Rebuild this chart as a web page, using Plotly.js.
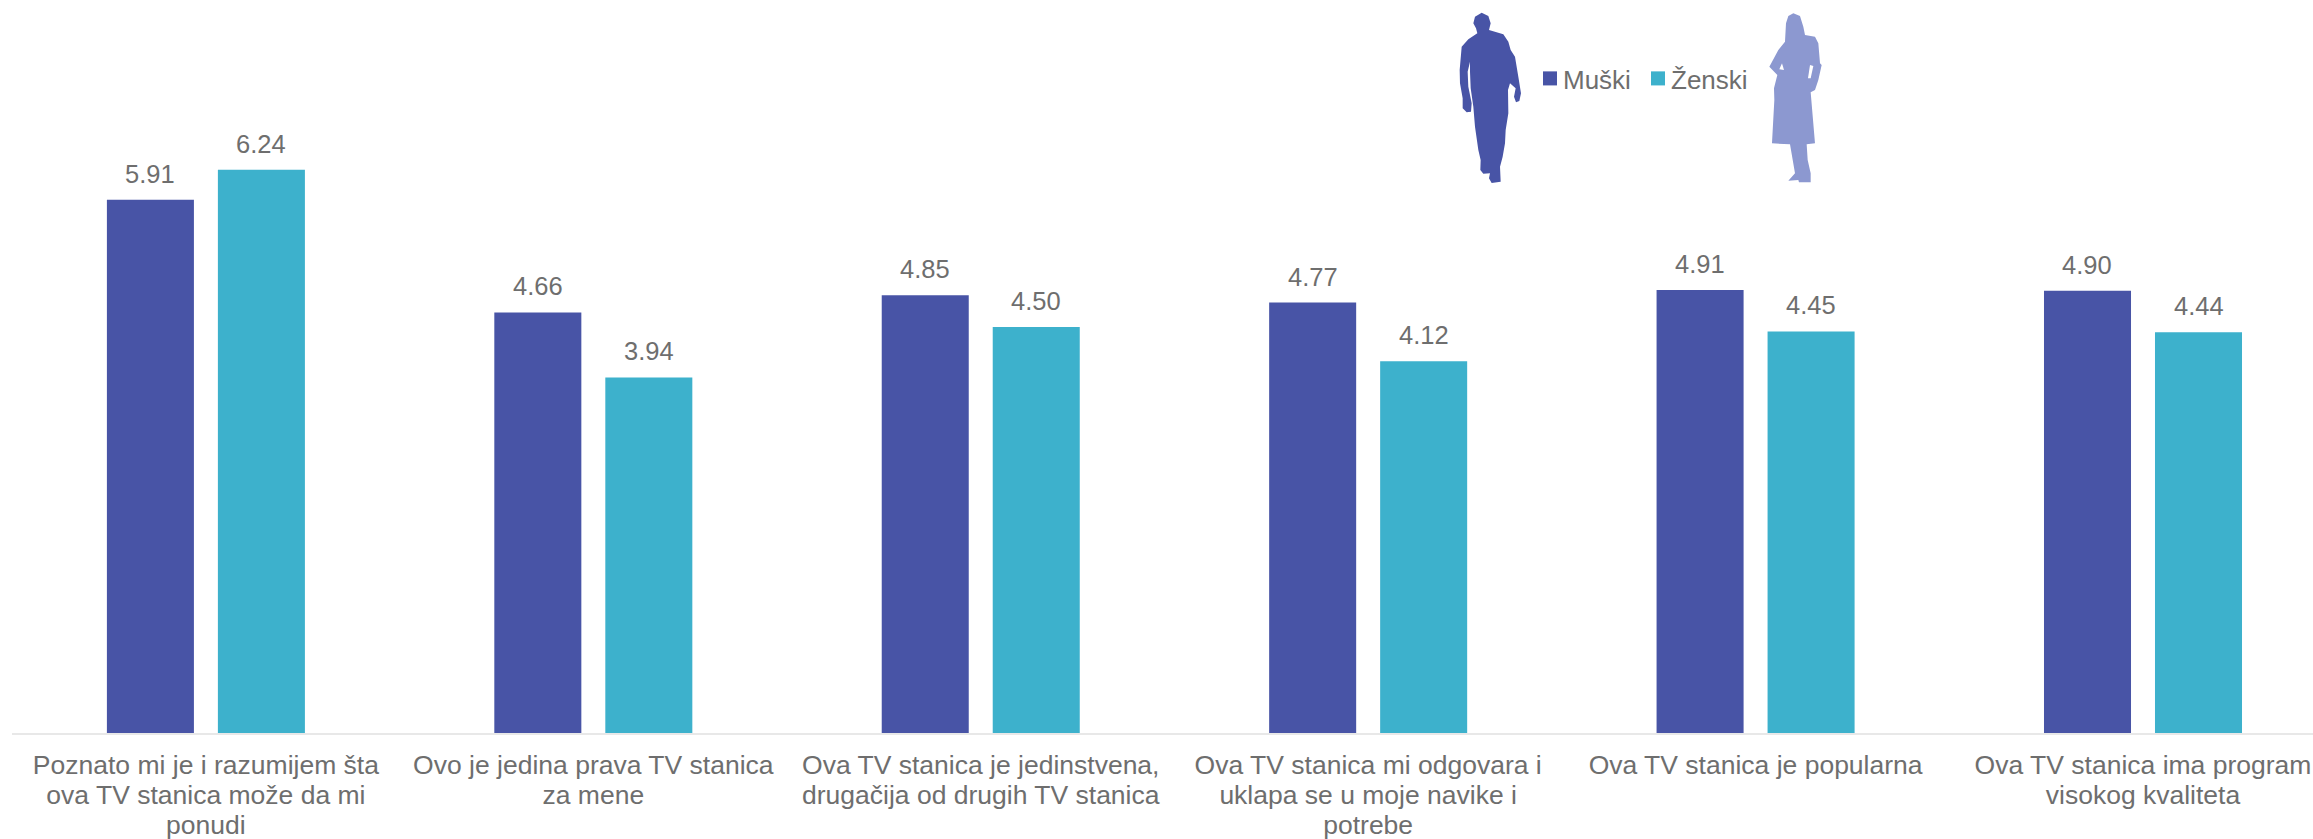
<!DOCTYPE html>
<html><head><meta charset="utf-8">
<script src="https://cdn.plot.ly/plotly-3.0.1.min.js"></script>
<style>html,body{margin:0;padding:0;background:#fff;overflow:hidden}
.legend .legendpoints path{transform:translate(27px,0) scale(1.17)}
.legend .scrollbox{clip-path:none !important}</style>
</head><body><div id="chart" style="width:2313px;height:839px"></div>
<script>
const categories = [
  "Poznato mi je i razumijem šta<br>ova TV stanica može da mi<br>ponudi",
  "Ovo je jedina prava TV stanica<br>za mene",
  "Ova TV stanica je jedinstvena,<br>drugačija od drugih TV stanica",
  "Ova TV stanica mi odgovara i<br>uklapa se u moje navike i<br>potrebe",
  "Ova TV stanica je popularna",
  "Ova TV stanica ima program<br>visokog kvaliteta"
];
const muski = [5.91, 4.66, 4.85, 4.77, 4.91, 4.90];
const zenski = [6.24, 3.94, 4.50, 4.12, 4.45, 4.44];
const seriesNames = ["Muški", "Ženski"];
const BLUE = "#4854A6", TEAL = "#3DB1CC", LIGHT = "#8C98D0", GREY = "#6E6E6E";
const W = 2313, H = 839, L = 12, R = 0, T = 0, B = 106;

// decorative silhouettes: outlines in 3x zoom coordinates around (1420,0)
const manOutline = [[185,38],[205,48],[212,70],[207,90],[250,103],[265,125],[272,150],[285,170],[295,230],[303,280],[298,303],[288,307],[282,290],[287,265],[270,250],[264,270],[265,340],[257,390],[255,430],[248,470],[240,500],[242,545],[215,549],[207,535],[210,520],[190,521],[181,510],[182,480],[175,450],[165,380],[160,320],[152,265],[150,215],[150,185],[143,215],[145,260],[155,310],[153,335],[140,337],[128,325],[128,295],[120,250],[119,210],[125,140],[145,118],[172,100],[168,85],[160,70],[165,50]];
const womanOutline = [[1120,40],[1140,48],[1150,80],[1155,105],[1185,110],[1195,130],[1200,190],[1205,195],[1195,240],[1185,270],[1172,277],[1185,430],[1160,433],[1163,480],[1172,520],[1172,547],[1137,547],[1135,540],[1105,542],[1125,520],[1110,433],[1056,430],[1063,300],[1062,265],[1072,225],[1048,200],[1075,150],[1095,125],[1098,70],[1105,48]];
const womanGapLeft = [[1086,190],[1092,210],[1078,208]];
const womanGapRight = [[1170,195],[1180,198],[1172,235],[1164,235]];
const pw = W - L - R, ph = H - T - B;
const toPath = o => "M" + o.map(p => ((1420 + p[0]/3 - L)/pw).toFixed(5) + "," + ((H - B - p[1]/3)/ph).toFixed(5)).join("L") + "Z";
const silhouette = (o, c) => ({type:"path", xref:"paper", yref:"paper", path:toPath(o), fillcolor:c, line:{width:0}, layer:"above"});

const barOffset = 0.1433;
const labels = (vals, off) => vals.map((v,i) => ({
  x:i+off, y:v, xref:"x", yref:"y", text:v.toFixed(2), showarrow:false,
  yanchor:"bottom", yshift:10, font:{family:"Liberation Sans, Arial, sans-serif", size:25.5, color:GREY}
}));

const traces = [
  {type:"bar", name:seriesNames[0], x:categories, y:muski, marker:{color:BLUE}},
  {type:"bar", name:seriesNames[1], x:categories, y:zenski, marker:{color:TEAL}}
];
const layout = {
  width:W, height:H, autosize:false,
  margin:{l:L, r:R, t:T, b:B, pad:0},
  paper_bgcolor:"#fff", plot_bgcolor:"#fff",
  font:{family:"Liberation Sans, Arial, sans-serif", color:GREY},
  barmode:"group", bargap:0.427, bargroupgap:0.216,
  xaxis:{type:"category", range:[-0.5005,5.4388], showgrid:false, showline:true, linecolor:"#E8E8E8", linewidth:2,
    ticks:"", tickangle:0, automargin:false, ticklabelstandoff:7, tickfont:{size:26.5, color:GREY}},
  yaxis:{range:[0,8.122], visible:false, showgrid:false, zeroline:false},
  showlegend:true,
  legend:{orientation:"h", x:(1523-L)/pw, xanchor:"left", y:(H-B-55)/ph, yanchor:"top",
    bgcolor:"rgba(0,0,0,0)", traceorder:"normal", entrywidth:63, entrywidthmode:"pixels",
    font:{size:26, color:GREY}},
  shapes:[silhouette(manOutline, BLUE), silhouette(womanOutline, LIGHT),
          silhouette(womanGapLeft, "#fff"), silhouette(womanGapRight, "#fff")],
  annotations:[...labels(muski,-barOffset), ...labels(zenski,barOffset)]
};
// tighten the wrapped category lines to the reference's line pitch
function tightenLines() {
  document.querySelectorAll(".xtick text").forEach(t => {
    t.querySelectorAll("tspan.line").forEach((s,i) => s.setAttribute("dy", (i*1.13) + "em"));
  });
}
const gd = document.getElementById("chart");
Plotly.newPlot(gd, traces, layout, {displayModeBar:false, staticPlot:true}).then(() => {
  tightenLines();
  gd.on("plotly_afterplot", tightenLines);
  setTimeout(tightenLines, 50);
});
</script></body></html>
